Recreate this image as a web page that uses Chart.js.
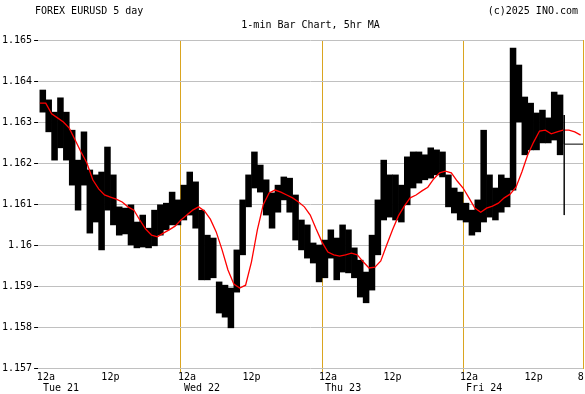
<!DOCTYPE html>
<html>
<head>
<meta charset="utf-8">
<script src="https://cdn.jsdelivr.net/npm/chart.js@4"></script>
<style>
html, body { margin: 0; padding: 0; background: #fff; }
#wrap { width: 585px; height: 394px; position: relative; }
</style>
</head>
<body>
<div id="wrap"><canvas id="graficoEurusd"></canvas></div>
<script>
// EURUSD, one bucket per hour (hour 0 = Tue 21 12a), high / low of the 1-min bars
const hiVals = [1.16378, 1.16354, 1.16324, 1.16359, 1.16324, 1.16280, 1.16207, 1.16276, 1.16183, 1.16171,
    1.16178, 1.16239, 1.16171, 1.16093, 1.16090, 1.16098, 1.16056, 1.16073, 1.16041, 1.16085,
    1.16098, 1.16102, 1.16129, 1.16110, 1.16146, 1.16178, 1.16154, 1.16085, 1.16024, 1.16017,
    1.15910, 1.15902, 1.15895, 1.15988, 1.16110, 1.16171, 1.16227, 1.16195, 1.16159, 1.16127,
    1.16146, 1.16166, 1.16163, 1.16122, 1.16061, 1.16049, 1.16005, 1.16000, 1.16012, 1.16037,
    1.16017, 1.16049, 1.16037, 1.15993, 1.15963, 1.15934, 1.16024, 1.16110, 1.16207, 1.16171,
    1.16171, 1.16146, 1.16215, 1.16227, 1.16227, 1.16220, 1.16237, 1.16232, 1.16227, 1.16171,
    1.16139, 1.16129, 1.16102, 1.16085, 1.16110, 1.16280, 1.16171, 1.16139, 1.16171, 1.16163,
    1.16480, 1.16439, 1.16361, 1.16346, 1.16322, 1.16329, 1.16310, 1.16373, 1.16366];
const loVals = [1.16324, 1.16276, 1.16207, 1.16237, 1.16207, 1.16146, 1.16085, 1.16146, 1.16029, 1.16056,
    1.15988, 1.16085, 1.16049, 1.16024, 1.16027, 1.16000, 1.15993, 1.15995, 1.15993, 1.15998,
    1.16024, 1.16037, 1.16049, 1.16049, 1.16061, 1.16073, 1.16041, 1.15915, 1.15915, 1.15920,
    1.15834, 1.15824, 1.15798, 1.15885, 1.15976, 1.16093, 1.16139, 1.16129, 1.16073, 1.16041,
    1.16080, 1.16110, 1.16080, 1.16012, 1.15988, 1.15968, 1.15956, 1.15910, 1.15920, 1.15968,
    1.15915, 1.15934, 1.15932, 1.15920, 1.15873, 1.15859, 1.15890, 1.15976, 1.16061, 1.16068,
    1.16061, 1.16056, 1.16098, 1.16139, 1.16151, 1.16159, 1.16163, 1.16171, 1.16166, 1.16093,
    1.16078, 1.16061, 1.16056, 1.16024, 1.16032, 1.16056, 1.16068, 1.16061, 1.16080, 1.16093,
    1.16134, 1.16300, 1.16220, 1.16232, 1.16232, 1.16249, 1.16249, 1.16256, 1.16220];

// 5hr moving average, one value per hour
const maVals = [1.16346, 1.16346, 1.16320, 1.16310, 1.16300, 1.16285, 1.16256, 1.16227, 1.16200, 1.16159,
    1.16137, 1.16122, 1.16117, 1.16112, 1.16105, 1.16093, 1.16085, 1.16061, 1.16039, 1.16024,
    1.16020, 1.16029, 1.16037, 1.16046, 1.16061, 1.16073, 1.16085, 1.16093, 1.16083, 1.16063,
    1.16032, 1.15988, 1.15939, 1.15905, 1.15895, 1.15902, 1.15959, 1.16037, 1.16098, 1.16127,
    1.16134, 1.16129, 1.16122, 1.16115, 1.16105, 1.16093, 1.16073, 1.16039, 1.16007, 1.15983,
    1.15976, 1.15973, 1.15976, 1.15980, 1.15976, 1.15959, 1.15944, 1.15946, 1.15961, 1.16000,
    1.16037, 1.16071, 1.16095, 1.16115, 1.16122, 1.16132, 1.16141, 1.16161, 1.16176, 1.16180,
    1.16176, 1.16156, 1.16139, 1.16115, 1.16090, 1.16080, 1.16090, 1.16095, 1.16102, 1.16115,
    1.16124, 1.16141, 1.16178, 1.16220, 1.16251, 1.16278, 1.16280, 1.16271, 1.16276, 1.16280,
    1.16280, 1.16276, 1.16268];

// last tick spike and last-price marker
const lastX = [89.2, 89.2, 89.2, 92.4];
const lastY = [1.16317, 1.16073, 1.16246, 1.16246];

// axis ticks
const tickHours = [0, 12, 24, 36, 48, 60, 72, 84, 92];
const tickLabels = ['12a', '12p', '12a', '12p', '12a', '12p', '12a', '12p', '8'];
const dayLabels = ['Tue 21', '', 'Wed 22', '', 'Thu 23', '', 'Fri 24', '', ''];
const yTicks = [1.157, 1.158, 1.159, 1.160, 1.161, 1.162, 1.163, 1.164, 1.165];

const fuente = 'DejaVu Sans Mono';
const naranja = '#daa520';

const textos = {
    id: 'textos',
    afterDraw(chart) {
        const c = chart.ctx;
        const area = chart.chartArea;
        c.save();
        c.font = '10px "' + fuente + '"';
        c.fillStyle = '#000';
        c.textBaseline = 'alphabetic';
        c.textAlign = 'left';
        c.fillText('FOREX EURUSD 5 day', 35, 14);
        c.textAlign = 'right';
        c.fillText('(c)2025 INO.com', 578, 14);
        c.textAlign = 'center';
        c.fillText('1-min Bar Chart, 5hr MA', (area.left + area.right) / 2, 28);
        c.restore();
    }
};

Chart.defaults.font.family = fuente;
Chart.defaults.font.size = 10;
Chart.defaults.color = '#000';

const ctx = document.getElementById('graficoEurusd').getContext('2d');
const grafico = new Chart(ctx, {
    data: {
        datasets: [{
            type: 'line',
            label: 'Last',
            data: lastX.map((x, i) => ({ x: x, y: lastY[i] })),
            borderColor: '#000',
            borderWidth: 1,
            pointRadius: 0,
            order: 0
        }, {
            type: 'line',
            label: '5hr MA',
            data: maVals.map((v, i) => ({ x: i, y: v })),
            borderColor: '#ff0000',
            borderWidth: 1.3,
            pointRadius: 0,
            tension: 0,
            order: 1
        }, {
            type: 'bar',
            label: 'EURUSD',
            data: hiVals.map((h, i) => ({ x: i + 0.5, y: [loVals[i], h] })),
            backgroundColor: '#000',
            borderWidth: 0,
            barPercentage: 1,
            categoryPercentage: 1,
            order: 2
        }]
    },
    options: {
        responsive: true,
        maintainAspectRatio: false,
        animation: false,
        layout: { padding: { top: 40, right: 2, left: 0, bottom: 0 } },
        plugins: {
            legend: { display: false },
            tooltip: { enabled: false }
        },
        scales: {
            x: {
                type: 'linear',
                min: -0.3,
                max: 92.4,
                offset: false,
                afterBuildTicks: scale => { scale.ticks = tickHours.map(v => ({ value: v })); },
                ticks: {
                    autoSkip: false,
                    maxRotation: 0,
                    align: 'center',
                    padding: 0,
                    font: { size: 10, lineHeight: 1.1 },
                    callback: function (value) {
                        const i = tickHours.indexOf(value);
                        // midnight labels sit to the right of their tick, as on the original
                        if (dayLabels[i]) return ['  ' + tickLabels[i], '       ' + dayLabels[i]];
                        return [tickLabels[i], ''];
                    }
                },
                grid: {
                    offset: false,
                    color: c => (c.tick && c.tick.value % 24 === 0 && c.tick.value > 0) ? naranja : 'rgba(0,0,0,0)',
                    tickLength: 4
                },
                border: { display: false }
            },
            y: {
                min: 1.157,
                max: 1.165,
                afterBuildTicks: scale => { scale.ticks = yTicks.map(v => ({ value: v })); },
                ticks: {
                    padding: 2,
                    callback: value => String(+value.toFixed(3))
                },
                grid: { color: '#c0c0c0', tickColor: '#000', tickLength: 4 },
                border: { display: false }
            },
            y2: {
                position: 'right',
                min: 1.157,
                max: 1.165,
                ticks: { display: false },
                grid: { drawOnChartArea: false, drawTicks: false },
                border: { color: naranja }
            }
        }
    },
    plugins: [textos]
});
</script>
</body>
</html>
